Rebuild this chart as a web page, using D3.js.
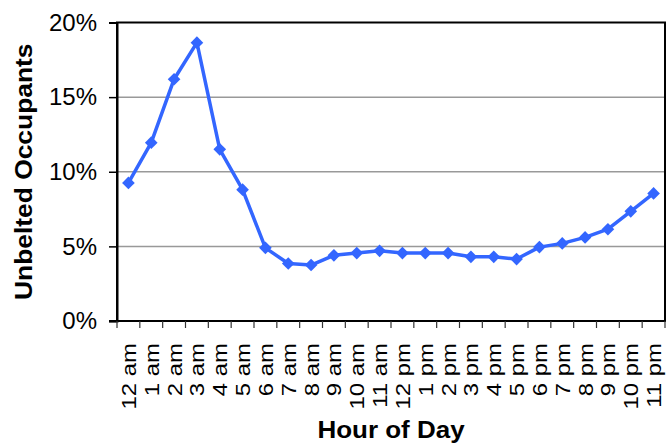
<!DOCTYPE html>
<html>
<head>
<meta charset="utf-8">
<script src="https://cdn.jsdelivr.net/npm/d3@7"></script>
<style>
  body { margin: 0; background: #fff; }
  svg { display: block; font-family: "Liberation Sans", Arial, sans-serif; }
</style>
</head>
<body>
<div id="chart"></div>
<script>
// hours along the x axis
const hours = [
  "12 am", "1 am", "2 am", "3 am", "4 am", "5 am", "6 am", "7 am",
  "8 am", "9 am", "10 am", "11 am", "12 pm", "1 pm", "2 pm", "3 pm",
  "4 pm", "5 pm", "6 pm", "7 pm", "8 pm", "9 pm", "10 pm", "11 pm"
];

// share of unbelted occupants, in percent
const unbelted = [
  9.25, 11.95, 16.2, 18.65, 11.5, 8.8, 4.9, 3.85,
  3.75, 4.4, 4.55, 4.7, 4.55, 4.55, 4.55, 4.3,
  4.3, 4.15, 4.95, 5.2, 5.6, 6.15, 7.35, 8.55
];

const yTicks = [0, 5, 10, 15, 20];

const width = 667, height = 445;
const margin = { top: 22.5, right: 2, bottom: 124, left: 117 };
const innerW = width - margin.left - margin.right;
const innerH = height - margin.top - margin.bottom;

const svg = d3.select("#chart").append("svg")
  .attr("width", width)
  .attr("height", height);

const g = svg.append("g")
  .attr("transform", `translate(${margin.left},${margin.top})`);

const x = d3.scaleBand()
  .domain(hours)
  .range([0, innerW]);

const y = d3.scaleLinear()
  .domain([0, 20])
  .range([innerH, 0]);

// gridlines
g.append("g")
  .selectAll("line")
  .data(yTicks.filter((d) => d > 0 && d < 20))
  .join("line")
  .attr("x1", 0)
  .attr("x2", innerW)
  .attr("y1", (d) => y(d))
  .attr("y2", (d) => y(d))
  .attr("stroke", "#999")
  .attr("stroke-width", 1.5);

// plot box
g.append("rect")
  .attr("width", innerW)
  .attr("height", innerH)
  .attr("fill", "none")
  .attr("stroke", "#000")
  .attr("stroke-width", 2);

// y axis
g.append("g")
  .call(d3.axisLeft(y).tickValues(yTicks).tickSize(8).tickPadding(12)
    .tickFormat((d) => d + "%"))
  .call((a) => a.select(".domain").attr("stroke-width", 2))
  .call((a) => a.selectAll(".tick line").attr("stroke-width", 1.5))
  .call((a) => a.selectAll(".tick text")
    .attr("font-size", 24)
    .attr("fill", "#000"));

// x axis: ticks at category boundaries
const xAxis = g.append("g").attr("transform", `translate(0,${innerH})`);
xAxis.append("line")
  .attr("x1", -8)
  .attr("x2", innerW)
  .attr("stroke", "#000")
  .attr("stroke-width", 2);
xAxis.selectAll(".bound")
  .data(hours.concat([null]))
  .join("line")
  .attr("class", "bound")
  .attr("x1", (d, i) => i * x.step())
  .attr("x2", (d, i) => i * x.step())
  .attr("y1", 0)
  .attr("y2", 7)
  .attr("stroke", "#333")
  .attr("stroke-width", 1.2);
xAxis.selectAll("text")
  .data(hours)
  .join("text")
  .attr("transform", (d) => `translate(${x(d) + x.bandwidth() / 2 + 7.5},22) rotate(-90) scale(1.14,1)`)
  .attr("text-anchor", "end")
  .attr("font-size", 21)
  .attr("fill", "#000")
  .text((d) => d);

// axis titles
svg.append("text")
  .attr("transform", `translate(32,${margin.top + innerH / 2}) rotate(-90) scale(1.1,1)`)
  .attr("text-anchor", "middle")
  .attr("font-size", 24)
  .attr("font-weight", "bold")
  .text("Unbelted Occupants");

svg.append("text")
  .attr("transform", `translate(${margin.left + innerW / 2},438) scale(1.13,1)`)
  .attr("text-anchor", "middle")
  .attr("font-size", 23)
  .attr("font-weight", "bold")
  .text("Hour of Day");

// series line + diamond markers
const color = "#3366ff";
const pts = hours.map((h, i) => ({ h, v: unbelted[i] }));

g.append("path")
  .datum(pts)
  .attr("fill", "none")
  .attr("stroke", color)
  .attr("stroke-width", 3.5)
  .attr("stroke-linejoin", "round")
  .attr("d", d3.line()
    .x((d) => x(d.h) + x.bandwidth() / 2)
    .y((d) => y(d.v)));

g.append("g")
  .selectAll("path")
  .data(pts)
  .join("path")
  .attr("d", d3.symbol(d3.symbolSquare, 80))
  .attr("transform", (d) => `translate(${x(d.h) + x.bandwidth() / 2},${y(d.v)}) rotate(45)`)
  .attr("fill", color);
</script>
</body>
</html>
